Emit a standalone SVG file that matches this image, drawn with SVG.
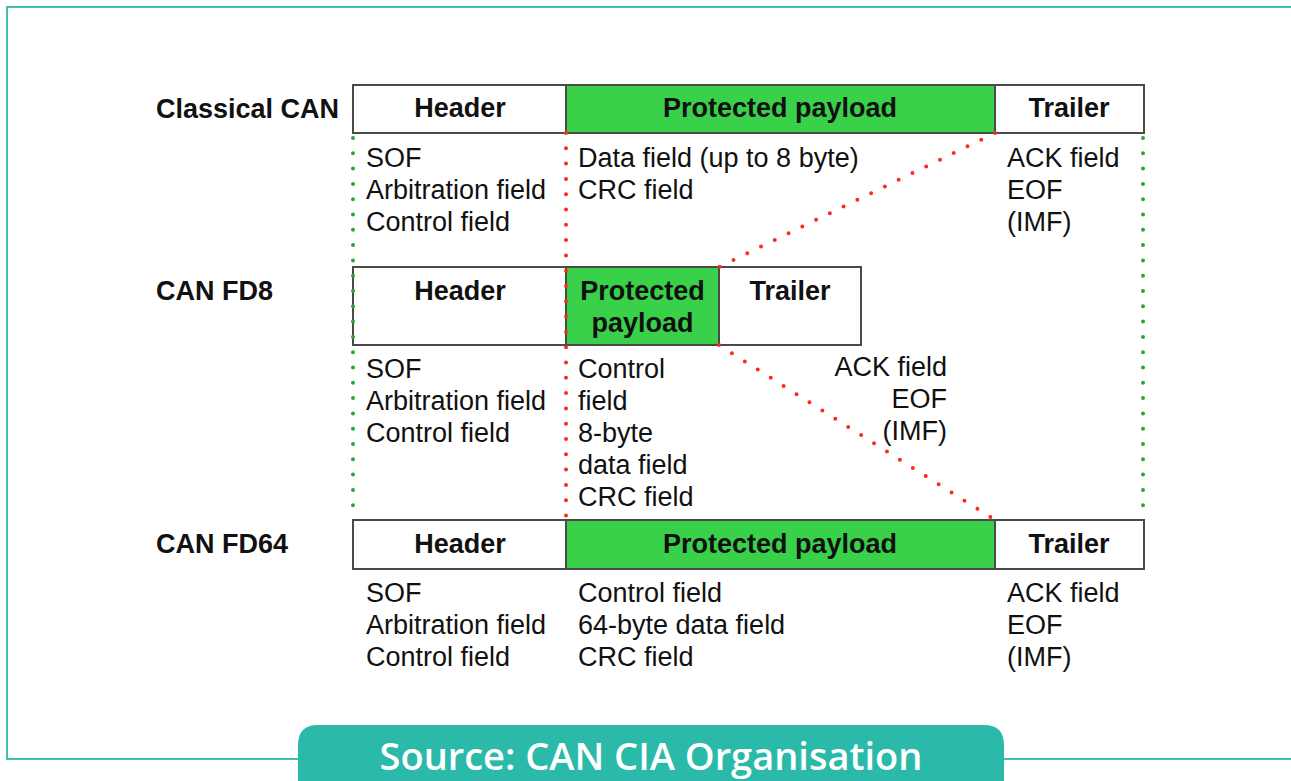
<svg xmlns="http://www.w3.org/2000/svg" width="1291" height="781" viewBox="0 0 1291 781">
<style>
.box{stroke:#4a4a4a;stroke-width:2;fill:#fff}
.pay{stroke:#4a4a4a;stroke-width:2;fill:#39d04a}
.t{font-family:"Liberation Sans",Arial,sans-serif;font-size:27px;fill:#111}
.b{font-weight:bold}
.c{text-anchor:middle}
.r{text-anchor:end}
.gd{stroke:#23a83a;stroke-width:4;stroke-linecap:round;stroke-dasharray:0 15.3;fill:none}
.rd{stroke:#ff2a1a;stroke-width:4;stroke-linecap:round;stroke-dasharray:0 15.3;fill:none}
.frame{stroke:#3fbfb1;stroke-width:2;fill:none}
</style>
<rect width="1291" height="781" fill="#fff"/>
<path class="frame" d="M1291 7 H7 V759 H1291"/>

<g id="row-classical">
<text class="t b" x="156" y="118">Classical CAN</text>
<rect class="box" x="353" y="85" width="213" height="48"/>
<rect class="pay" x="566" y="85" width="429" height="48"/>
<rect class="box" x="995" y="85" width="149" height="48"/>
<text class="t b c" x="460" y="117">Header</text>
<text class="t b c" x="780" y="117">Protected payload</text>
<text class="t b c" x="1069" y="117">Trailer</text>
<text class="t" x="366" y="167">SOF</text>
<text class="t" x="366" y="199">Arbitration field</text>
<text class="t" x="366" y="231">Control field</text>
<text class="t" x="578" y="167">Data field (up to 8 byte)</text>
<text class="t" x="578" y="199">CRC field</text>
<text class="t" x="1007" y="167">ACK field</text>
<text class="t" x="1007" y="199">EOF</text>
<text class="t" x="1007" y="231">(IMF)</text>
</g>

<g id="row-fd8">
<text class="t b" x="156" y="300">CAN FD8</text>
<rect class="box" x="353" y="267" width="213" height="78"/>
<rect class="pay" x="566" y="267" width="153" height="78"/>
<rect class="box" x="719" y="267" width="142" height="78"/>
<text class="t b c" x="460" y="300">Header</text>
<text class="t b c" x="642.5" y="300">Protected</text>
<text class="t b c" x="642.5" y="332">payload</text>
<text class="t b c" x="790" y="300">Trailer</text>
<text class="t" x="366" y="378">SOF</text>
<text class="t" x="366" y="410">Arbitration field</text>
<text class="t" x="366" y="442">Control field</text>
<text class="t" x="578" y="378">Control</text>
<text class="t" x="578" y="410">field</text>
<text class="t" x="578" y="442">8-byte</text>
<text class="t" x="578" y="474">data field</text>
<text class="t" x="578" y="506">CRC field</text>
<text class="t r" x="947" y="376">ACK field</text>
<text class="t r" x="947" y="408">EOF</text>
<text class="t r" x="947" y="440">(IMF)</text>
</g>

<g id="row-fd64">
<text class="t b" x="156" y="553">CAN FD64</text>
<rect class="box" x="353" y="520" width="213" height="49"/>
<rect class="pay" x="566" y="520" width="429" height="49"/>
<rect class="box" x="995" y="520" width="149" height="49"/>
<text class="t b c" x="460" y="553">Header</text>
<text class="t b c" x="780" y="553">Protected payload</text>
<text class="t b c" x="1069" y="553">Trailer</text>
<text class="t" x="366" y="602">SOF</text>
<text class="t" x="366" y="634">Arbitration field</text>
<text class="t" x="366" y="666">Control field</text>
<text class="t" x="578" y="602">Control field</text>
<text class="t" x="578" y="634">64-byte data field</text>
<text class="t" x="578" y="666">CRC field</text>
<text class="t" x="1007" y="602">ACK field</text>
<text class="t" x="1007" y="634">EOF</text>
<text class="t" x="1007" y="666">(IMF)</text>
</g>

<g id="connectors">
<line class="gd" x1="353" y1="138" x2="353" y2="518"/>
<line class="gd" x1="1143" y1="138" x2="1143" y2="518"/>
<line class="rd" x1="566" y1="133" x2="566" y2="520"/>
<line class="rd" x1="995" y1="133" x2="719" y2="267"/>
<line class="rd" x1="719" y1="345" x2="995" y2="520"/>
</g>

<g id="source-badge">
<path d="M298 781 V745 Q298 725 318 725 H984 Q1004 725 1004 745 V781 Z" fill="#2bbaa9"/>
<text x="651" y="770" text-anchor="middle" font-family="'Open Sans','Noto Sans',sans-serif" font-size="38" font-weight="600" fill="#fff">Source: CAN CIA Organisation</text>
</g>
</svg>
